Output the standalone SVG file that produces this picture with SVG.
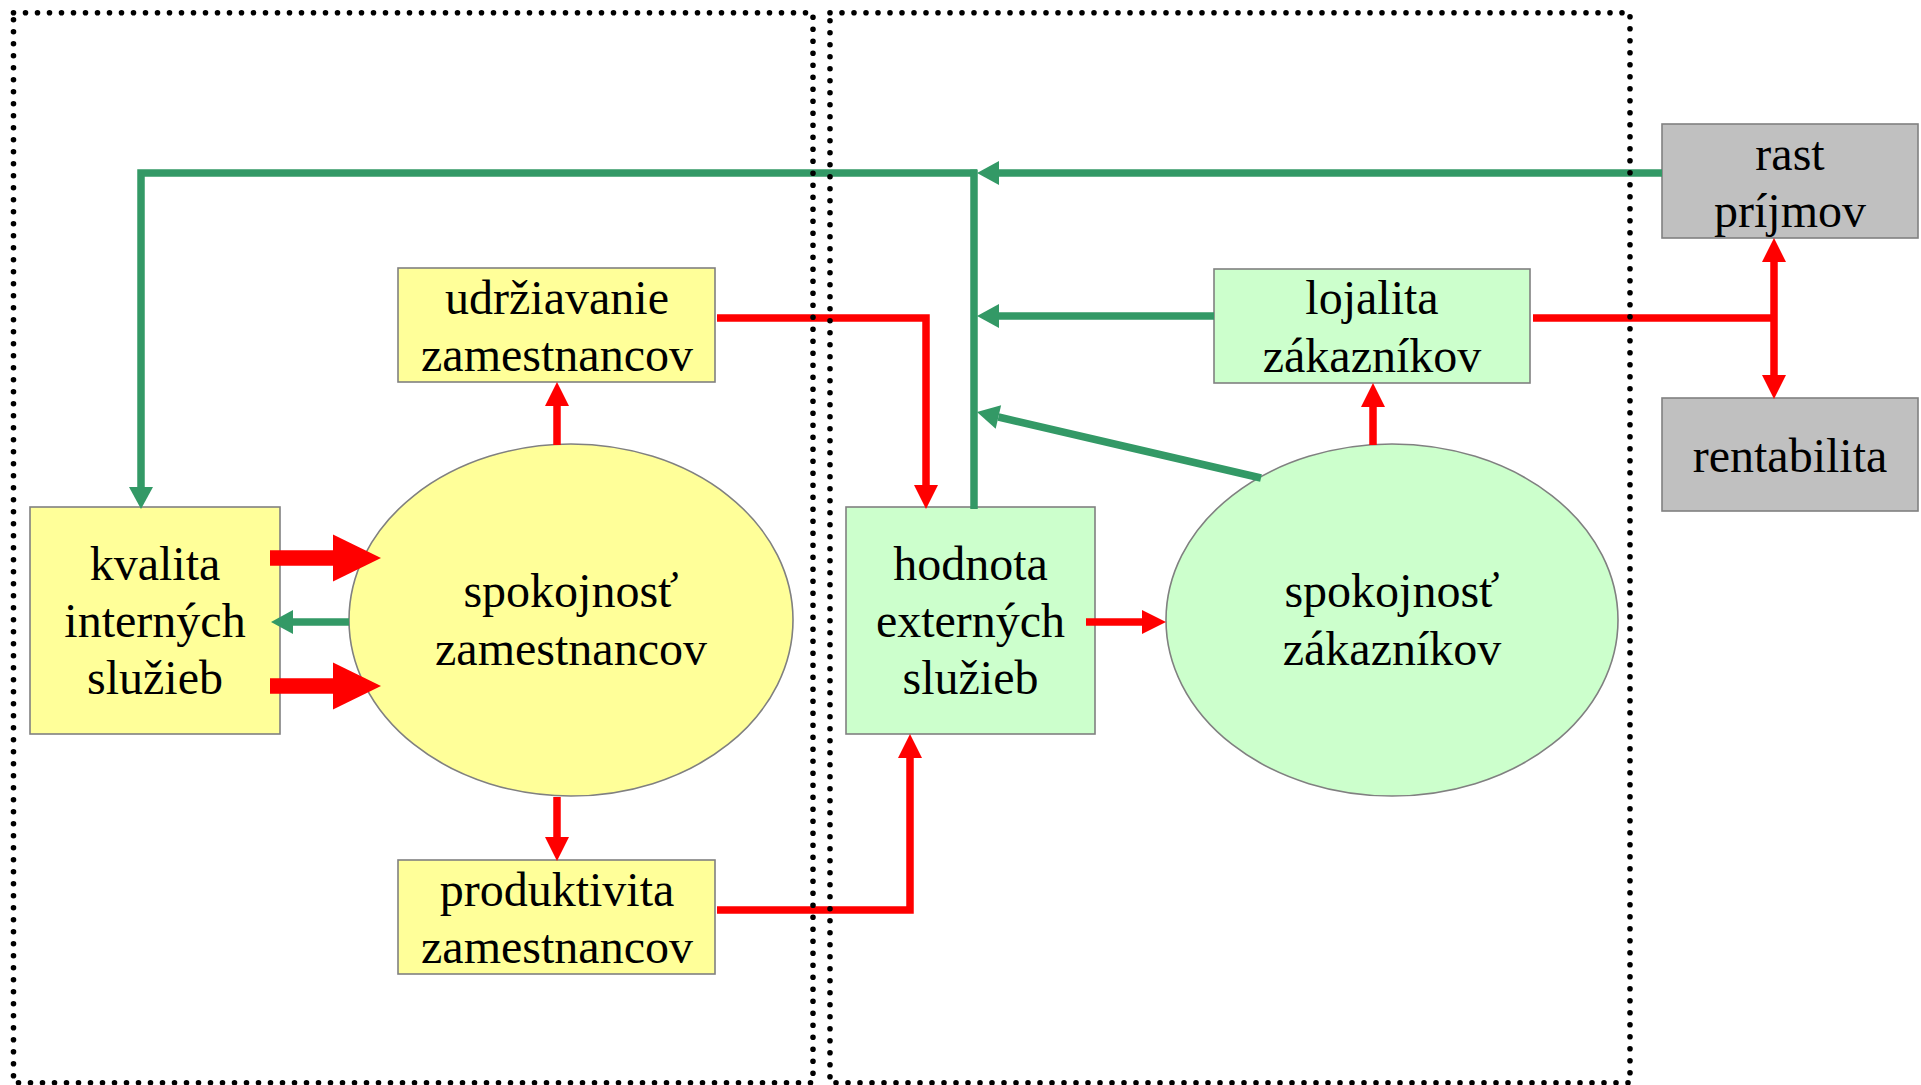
<svg xmlns="http://www.w3.org/2000/svg" width="1921" height="1085" viewBox="0 0 1921 1085">
  <style>
    .box { stroke: #808080; stroke-width: 1.6; }
    .yellow { fill: #FFFF99; }
    .mint { fill: #CCFFCC; }
    .grey { fill: #C0C0C0; }
    .label { font-family: "Liberation Serif", "Times New Roman", serif; font-size: 48px; fill: #000; text-anchor: middle; }
    .red { fill: none; stroke: #FF0000; stroke-width: 7.5; stroke-linejoin: miter; }
    .redThick { fill: none; stroke: #FF0000; stroke-width: 15.5; }
    .green { fill: none; stroke: #339966; stroke-width: 7.5; stroke-linejoin: miter; }
    .frame { fill: none; stroke: #000; stroke-width: 5.6; stroke-linecap: round; stroke-dasharray: 0 12; }
  </style>
  <defs>
    <marker id="headRed" markerUnits="userSpaceOnUse" orient="auto" overflow="visible" markerWidth="24" markerHeight="24" refX="0" refY="0">
      <path d="M0,-12 L24,0 L0,12 Z" fill="#FF0000"/>
    </marker>
    <marker id="headRedBig" markerUnits="userSpaceOnUse" orient="auto" overflow="visible" markerWidth="48" markerHeight="48" refX="0" refY="0">
      <path d="M0,-23.5 L48,0 L0,23.5 Z" fill="#FF0000"/>
    </marker>
    <marker id="headGreen" markerUnits="userSpaceOnUse" orient="auto" overflow="visible" markerWidth="24" markerHeight="24" refX="0" refY="0">
      <path d="M0,-12 L22,0 L0,12 Z" fill="#339966"/>
    </marker>
  </defs>

  <rect width="1921" height="1085" fill="#FFFFFF"/>

  <!-- nodes -->
  <g id="kvalita-internych-sluzieb">
    <rect class="box yellow" x="30" y="507" width="250" height="227"/>
    <text class="label" x="155" y="580">kvalita</text>
    <text class="label" x="155" y="637">interných</text>
    <text class="label" x="155" y="694">služieb</text>
  </g>
  <g id="spokojnost-zamestnancov">
    <ellipse class="box yellow" cx="571" cy="620" rx="222" ry="176"/>
    <text class="label" x="571" y="607">spokojnosť</text>
    <text class="label" x="571" y="665">zamestnancov</text>
  </g>
  <g id="udrziavanie-zamestnancov">
    <rect class="box yellow" x="398" y="268" width="317" height="114"/>
    <text class="label" x="557" y="314">udržiavanie</text>
    <text class="label" x="557" y="371">zamestnancov</text>
  </g>
  <g id="produktivita-zamestnancov">
    <rect class="box yellow" x="398" y="860" width="317" height="114"/>
    <text class="label" x="557" y="906">produktivita</text>
    <text class="label" x="557" y="963">zamestnancov</text>
  </g>
  <g id="hodnota-externych-sluzieb">
    <rect class="box mint" x="846" y="507" width="249" height="227"/>
    <text class="label" x="970.5" y="580">hodnota</text>
    <text class="label" x="970.5" y="637">externých</text>
    <text class="label" x="970.5" y="694">služieb</text>
  </g>
  <g id="spokojnost-zakaznikov">
    <ellipse class="box mint" cx="1392" cy="620" rx="226" ry="176"/>
    <text class="label" x="1392" y="607">spokojnosť</text>
    <text class="label" x="1392" y="665">zákazníkov</text>
  </g>
  <g id="lojalita-zakaznikov">
    <rect class="box mint" x="1214" y="269" width="316" height="114"/>
    <text class="label" x="1372" y="314">lojalita</text>
    <text class="label" x="1372" y="372">zákazníkov</text>
  </g>
  <g id="rast-prijmov">
    <rect class="box grey" x="1662" y="124" width="256" height="114"/>
    <text class="label" x="1790" y="170">rast</text>
    <text class="label" x="1790" y="227">príjmov</text>
  </g>
  <g id="rentabilita">
    <rect class="box grey" x="1662" y="398" width="256" height="113"/>
    <text class="label" x="1790" y="472">rentabilita</text>
  </g>

  <!-- connectors -->
  <g id="connectors">
    <!-- feedback loop (green) -->
    <path class="green" d="M1662,173 H999" marker-end="url(#headGreen)"/>
    <path class="green" d="M977,173 H141 V487" marker-end="url(#headGreen)"/>
    <path class="green" d="M974,509 V169.5"/>
    <path class="green" d="M1214,316 H999" marker-end="url(#headGreen)"/>
    <path class="green" d="M1261,478 L998.4,417" marker-end="url(#headGreen)"/>
    <path class="green" d="M349,622 H293" marker-end="url(#headGreen)"/>

    <!-- service chain (red) -->
    <path class="redThick" d="M270,558 H333" marker-end="url(#headRedBig)"/>
    <path class="redThick" d="M270,686 H333" marker-end="url(#headRedBig)"/>
    <path class="red" d="M557,445 V406" marker-end="url(#headRed)"/>
    <path class="red" d="M557,797 V837" marker-end="url(#headRed)"/>
    <path class="red" d="M717,318 H926 V485" marker-end="url(#headRed)"/>
    <path class="red" d="M717,910 H910 V758" marker-end="url(#headRed)"/>
    <path class="red" d="M1086,622 H1142" marker-end="url(#headRed)"/>
    <path class="red" d="M1373,445 V407" marker-end="url(#headRed)"/>
    <path class="red" d="M1533,318 H1774"/>
    <path class="red" d="M1774,318 V262" marker-end="url(#headRed)"/>
    <path class="red" d="M1774,318 V375" marker-end="url(#headRed)"/>
  </g>

  <!-- dotted frames around the internal and external halves -->
  <g id="frames">
    <rect class="frame" x="13.5" y="12.7" width="799.5" height="1070"/>
    <rect class="frame" x="830" y="12.7" width="800" height="1070"/>
  </g>
</svg>
